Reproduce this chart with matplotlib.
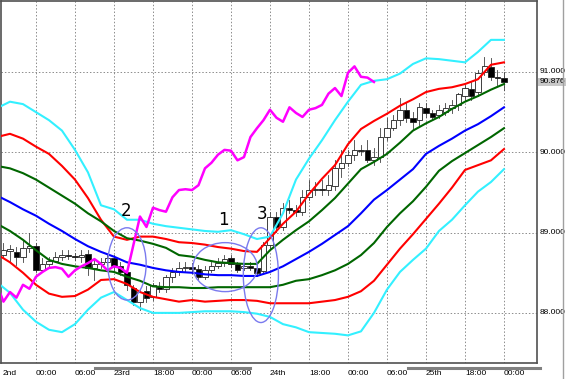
import numpy as np
import matplotlib
matplotlib.use('Agg')
import matplotlib.pyplot as plt
import matplotlib.transforms as mtransforms
from matplotlib.patches import Ellipse, Rectangle
from matplotlib.lines import Line2D

# hourly bars (x = hour index on the chart)
bar_hours = np.arange(1, 79)
opens = [88.72, 88.77, 88.76, 88.70, 88.81, 88.83, 88.53, 88.61, 88.65, 88.70,
         88.72, 88.71, 88.70, 88.73, 88.56, 88.61, 88.63, 88.68, 88.58, 88.51,
         88.31, 88.14, 88.27, 88.20, 88.33, 88.30, 88.45, 88.51, 88.56, 88.57,
         88.55, 88.45, 88.53, 88.58, 88.62, 88.68, 88.61, 88.56, 88.58, 88.56,
         88.52, 88.85, 89.20, 89.07, 89.31, 89.28, 89.26, 89.44, 89.53, 89.54,
         89.53, 89.58, 89.80, 89.87, 89.97, 90.03, 90.03, 89.90, 89.94, 90.19,
         90.30, 90.40, 90.53, 90.43, 90.40, 90.55, 90.49, 90.46, 90.50, 90.55,
         90.59, 90.70, 90.79, 90.75, 91.00, 91.06, 90.94, 90.93]
highs = [88.87, 88.85, 88.82, 88.91, 88.99, 88.87, 88.68, 88.70, 88.76, 88.78,
         88.78, 88.75, 88.78, 88.78, 88.66, 88.68, 88.72, 88.72, 88.63, 88.53,
         88.35, 88.29, 88.33, 88.37, 88.38, 88.47, 88.56, 88.63, 88.63, 88.62,
         88.60, 88.58, 88.63, 88.68, 88.72, 88.72, 88.63, 88.62, 88.63, 88.61,
         88.88, 89.26, 89.26, 89.37, 89.41, 89.34, 89.53, 89.66, 89.63, 89.66,
         89.72, 89.90, 90.03, 90.03, 90.15, 90.09, 90.15, 90.05, 90.30, 90.43,
         90.46, 90.68, 90.61, 90.50, 90.61, 90.61, 90.53, 90.59, 90.61, 90.65,
         90.74, 90.84, 90.88, 91.02, 91.19, 91.17, 91.02, 91.00]
lows = [88.68, 88.63, 88.60, 88.63, 88.76, 88.51, 88.51, 88.56, 88.63, 88.66,
        88.67, 88.66, 88.63, 88.47, 88.41, 88.56, 88.60, 88.53, 88.47, 88.29,
        88.10, 88.04, 88.14, 88.16, 88.26, 88.26, 88.38, 88.47, 88.51, 88.50,
        88.41, 88.42, 88.51, 88.56, 88.58, 88.57, 88.51, 88.53, 88.53, 88.46,
        88.50, 88.78, 89.01, 89.03, 89.24, 89.21, 89.22, 89.41, 89.47, 89.47,
        89.47, 89.53, 89.69, 89.83, 89.90, 89.97, 89.88, 89.84, 89.88, 90.15,
        90.28, 90.34, 90.38, 90.28, 90.34, 90.44, 90.40, 90.43, 90.46, 90.49,
        90.53, 90.65, 90.65, 90.70, 90.96, 90.90, 90.84, 90.78]
closes = [88.78, 88.80, 88.70, 88.81, 88.83, 88.53, 88.61, 88.65, 88.70, 88.72,
          88.71, 88.70, 88.72, 88.56, 88.61, 88.63, 88.68, 88.58, 88.51, 88.35,
          88.14, 88.26, 88.19, 88.35, 88.30, 88.45, 88.51, 88.56, 88.57, 88.55,
          88.45, 88.53, 88.58, 88.62, 88.67, 88.61, 88.53, 88.58, 88.56, 88.50,
          88.85, 89.20, 89.07, 89.31, 89.28, 89.26, 89.44, 89.53, 89.54, 89.53,
          89.59, 89.80, 89.87, 89.97, 90.03, 90.02, 89.90, 89.94, 90.19, 90.30,
          90.40, 90.53, 90.43, 90.38, 90.56, 90.49, 90.44, 90.53, 90.55, 90.59,
          90.73, 90.80, 90.70, 90.99, 91.07, 90.94, 90.93, 90.876]

# bollinger band lines read every 2 bars
band_hours = np.arange(0, 80, 2)
upper3 = [90.55, 90.63, 90.60, 90.50, 90.40, 90.27, 90.03, 89.75, 89.34, 89.29,
          89.16, 89.16, 89.11, 89.08, 89.06, 89.04, 89.02, 89.01, 89.03, 88.98,
          88.92, 88.95, 89.24, 89.66, 89.92, 90.15, 90.40, 90.63, 90.84, 90.89,
          90.91, 90.98, 91.10, 91.17, 91.16, 91.14, 91.12, 91.25, 91.40, 91.40]
upper2 = [90.19, 90.23, 90.17, 90.07, 89.98, 89.83, 89.66, 89.43, 89.16, 88.95,
          88.91, 88.95, 88.95, 88.92, 88.88, 88.87, 88.85, 88.82, 88.80, 88.77,
          88.76, 88.93, 89.11, 89.26, 89.48, 89.67, 89.84, 90.10, 90.29, 90.39,
          90.48, 90.58, 90.66, 90.75, 90.79, 90.81, 90.85, 90.91, 91.09, 91.12]
upper1 = [89.83, 89.80, 89.74, 89.66, 89.56, 89.46, 89.36, 89.24, 89.14, 89.02,
          88.93, 88.90, 88.86, 88.81, 88.72, 88.70, 88.66, 88.63, 88.62, 88.61,
          88.61, 88.78, 88.91, 89.03, 89.14, 89.28, 89.43, 89.61, 89.79, 89.88,
          89.98, 90.12, 90.27, 90.36, 90.44, 90.54, 90.63, 90.70, 90.78, 90.85]
middle = [89.46, 89.38, 89.29, 89.21, 89.11, 89.02, 88.92, 88.83, 88.76, 88.70,
          88.63, 88.60, 88.56, 88.53, 88.51, 88.50, 88.48, 88.47, 88.47, 88.46,
          88.46, 88.51, 88.58, 88.67, 88.76, 88.86, 88.97, 89.08, 89.24, 89.41,
          89.53, 89.66, 89.79, 89.98, 90.08, 90.17, 90.27, 90.35, 90.45, 90.56]
lower1 = [89.11, 89.02, 88.91, 88.78, 88.66, 88.61, 88.58, 88.56, 88.53, 88.51,
          88.45, 88.40, 88.33, 88.32, 88.32, 88.31, 88.31, 88.32, 88.32, 88.32,
          88.32, 88.32, 88.35, 88.40, 88.42, 88.47, 88.53, 88.61, 88.72, 88.87,
          89.07, 89.24, 89.39, 89.57, 89.77, 89.89, 89.99, 90.09, 90.19, 90.30]
lower2 = [88.73, 88.63, 88.50, 88.35, 88.24, 88.20, 88.21, 88.29, 88.41, 88.42,
          88.36, 88.26, 88.20, 88.17, 88.14, 88.16, 88.14, 88.15, 88.16, 88.16,
          88.15, 88.12, 88.12, 88.12, 88.12, 88.14, 88.16, 88.20, 88.27, 88.40,
          88.60, 88.80, 88.98, 89.17, 89.36, 89.56, 89.78, 89.84, 89.90, 90.04]
lower3 = [88.38, 88.25, 88.04, 87.89, 87.79, 87.76, 87.86, 88.04, 88.19, 88.26,
          88.16, 88.06, 88.00, 88.00, 88.00, 88.01, 88.02, 88.02, 88.02, 88.01,
          87.99, 87.95, 87.86, 87.82, 87.76, 87.75, 87.74, 87.72, 87.77, 88.00,
          88.29, 88.51, 88.66, 88.80, 89.02, 89.16, 89.34, 89.51, 89.63, 89.79]

chikou_shift = 20
time_labels = ['2nd', '00:00', '06:00', '23rd', '18:00', '00:00', '06:00',
               '24th', '18:00', '00:00', '06:00', '25th', '18:00', '00:00']
label_hours = np.arange(0, 84, 6)
price_levels = [88, 89, 90, 91]
price_labels = ['88.000', '89.000', '90.000', '91.000']

W, H = 566, 379
fig = plt.figure(figsize=(W / 100, H / 100), dpi=100)
fig.patch.set_facecolor('white')
ax = fig.add_axes([1 / W, 16 / H, 536 / W, 362 / H])
ax.set_xlim(0.62, 83.08)
ax.set_ylim(87.376, 91.884)
ax.set_xticks([])
ax.set_yticks([])
for s in ax.spines.values():
    s.set_color('#505050')
    s.set_linewidth(1.2)

# grid
for h in label_hours[1:]:
    ax.axvline(h, color='#8c8c8c', lw=0.7, ls=(0, (1.5, 2)), zorder=1)
for p in price_levels:
    ax.axhline(p, color='#8c8c8c', lw=0.7, ls=(0, (1.5, 2)), zorder=1)

# candles
for h, o, hi, lo, c in zip(bar_hours, opens, highs, lows, closes):
    ax.plot([h, h], [lo, hi], color='#404040', lw=0.6, zorder=2)
    bottom = min(o, c)
    height = max(abs(c - o), 0.006)
    face = 'white' if c >= o else 'black'
    ax.add_patch(Rectangle((h - 0.45, bottom), 0.9, height, facecolor=face,
                           edgecolor='#202020', lw=0.6, zorder=2.5))

# bands
ax.plot(band_hours, upper3, color='#33f0ff', lw=1.5, zorder=3)
ax.plot(band_hours, lower3, color='#33f0ff', lw=1.5, zorder=3)
ax.plot(band_hours, upper2, color='#ff0000', lw=1.5, zorder=3)
ax.plot(band_hours, lower2, color='#ff0000', lw=1.5, zorder=3)
ax.plot(band_hours, upper1, color='#006600', lw=1.5, zorder=3)
ax.plot(band_hours, lower1, color='#006600', lw=1.5, zorder=3)
ax.plot(band_hours, middle, color='#0000ff', lw=1.5, zorder=3)

# lagging span
lag_x = bar_hours[chikou_shift - 1:] - chikou_shift
ax.plot(lag_x, closes[chikou_shift - 1:], color='#ff00ff', lw=1.8, zorder=4)

# marked zones
ell_color = '#7a7aee'
ax.add_patch(Ellipse((20.0, 88.61), 5.9, 0.9, fill=False, ec=ell_color, lw=1.0, zorder=5))
ax.add_patch(Ellipse((35.1, 88.57), 9.9, 0.61, fill=False, ec=ell_color, lw=1.0, zorder=5))
ax.add_patch(Ellipse((40.6, 88.47), 5.4, 1.18, fill=False, ec=ell_color, lw=1.0, zorder=5))
ax.text(19.85, 89.27, '2', fontsize=12, ha='center', va='center', zorder=6)
ax.text(34.8, 89.16, '1', fontsize=12, ha='center', va='center', zorder=6)
ax.text(40.8, 89.23, '3', fontsize=12, ha='center', va='center', zorder=6)

small = ['Liberation Sans Narrow', 'Liberation Sans', 'DejaVu Sans']

# time axis labels
xt = mtransforms.blended_transform_factory(ax.transData, ax.transAxes)
for h, lab in zip(label_hours, time_labels):
    ax.text(max(h, 0.8), -0.028, lab, transform=xt, fontsize=6, family=small,
            ha='left', va='center', clip_on=False)

# price labels on the right
yt = mtransforms.blended_transform_factory(ax.transAxes, ax.transData)
for p, lab in zip(price_levels, price_labels):
    ax.text(1.004, p, lab, transform=yt, fontsize=6, family=small,
            ha='left', va='center', clip_on=False)
ax.text(1.004, closes[-1], '%.3f' % closes[-1], transform=yt, fontsize=6,
        family=small, ha='left', va='center', clip_on=False,
        bbox=dict(boxstyle='square,pad=0.1', fc='#c8c8c8', ec='none'))

# scroll strip under the time axis and right frame
fig.add_artist(Line2D([95 / W, 250 / W], [1 - 368 / H] * 2, color='#808080', lw=2.2))
fig.add_artist(Line2D([408 / W, 540 / W], [1 - 368 / H] * 2, color='#808080', lw=2.2))
fig.add_artist(Line2D([563 / W] * 2, [0, 1], color='#a0a0a0', lw=1.0))

fig.savefig('out.png', dpi=100)
